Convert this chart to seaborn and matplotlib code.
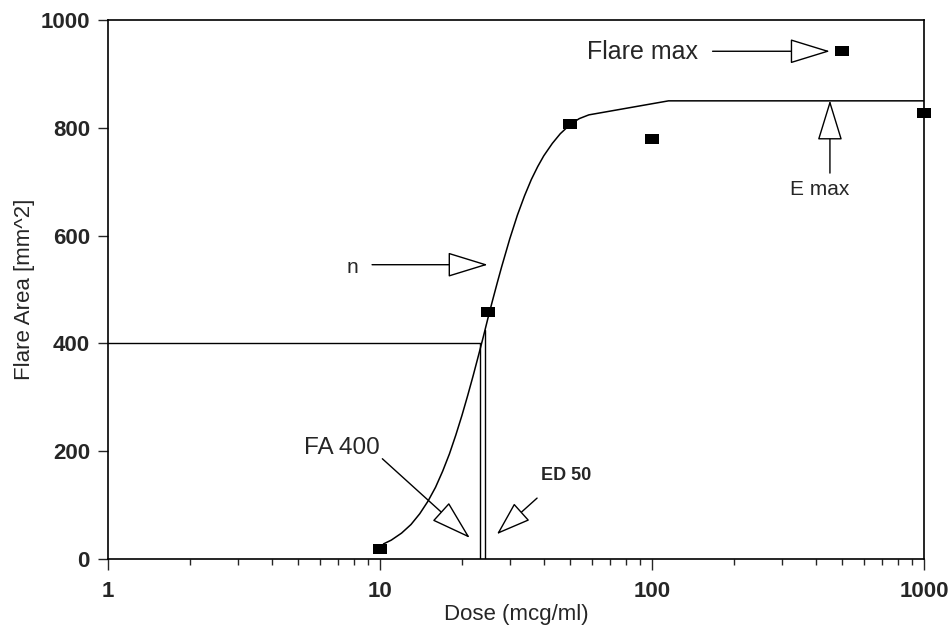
import matplotlib
matplotlib.use("Agg")
import matplotlib.pyplot as plt
import numpy as np
import pandas as pd
import seaborn as sns
from matplotlib.path import Path
from matplotlib.ticker import LogLocator, NullFormatter, FixedLocator

# ---- data ----
dose = [10, 25, 50, 100, 500, 1000]
flare_area = [19, 459, 807, 779, 942, 827]

# fitted curve
curve_dose = [10.3, 11, 12, 13, 14, 15, 16, 17, 18, 19, 20, 21, 22, 23, 24, 25, 26, 27,
              28, 30, 32, 34, 36, 38, 40, 43, 46, 50, 54, 58.6, 115, 1000]
curve_area = [28, 35, 48, 64, 84, 107, 133, 163, 195, 230, 266, 303, 340, 377, 413,
              449, 482, 513, 542, 594, 638, 674, 704, 728, 748, 771, 789, 806, 817,
              824, 850, 850]

fa400_level = 400
fa400_dose = 23.3
ed50_dose = 24.4
ed50_level = 425

x_ticks = [1, 10, 100, 1000]
x_tick_labels = ["1", "10", "100", "1000"]
y_ticks = [0, 200, 400, 600, 800, 1000]

sns.set_style("ticks")
plt.rcParams["font.family"] = ["Liberation Sans", "DejaVu Sans"]

fig = plt.figure(figsize=(9.48, 6.32), dpi=100)
ax = fig.add_axes([108 / 948, (632 - 559) / 632, (924 - 108) / 948, (559 - 20) / 632])

pts = pd.DataFrame({"dose": dose, "area": flare_area})
crv = pd.DataFrame({"dose": curve_dose, "area": curve_area})

# fitted curve
sns.lineplot(data=crv, x="dose", y="area", ax=ax, color="black", lw=1.1,
             sort=False, estimator=None)

# reference lines FA 400 / ED 50
ref_h = pd.DataFrame({"dose": [1, fa400_dose], "area": [fa400_level, fa400_level]})
ref_v1 = pd.DataFrame({"dose": [fa400_dose, fa400_dose], "area": [0, fa400_level]})
ref_v2 = pd.DataFrame({"dose": [ed50_dose, ed50_dose], "area": [0, ed50_level]})
for d in (ref_h, ref_v1, ref_v2):
    sns.lineplot(data=d, x="dose", y="area", ax=ax, color="black", lw=1.0,
                 sort=False, estimator=None)

# data points (rectangular markers)
rect = Path([(-1, -0.72), (1, -0.72), (1, 0.72), (-1, 0.72), (-1, -0.72)],
            [Path.MOVETO, Path.LINETO, Path.LINETO, Path.LINETO, Path.CLOSEPOLY])
sns.scatterplot(data=pts, x="dose", y="area", ax=ax, marker=rect, s=92,
                color="black", edgecolor="black", linewidth=0, zorder=5, clip_on=False)

ax.set_xscale("log")
ax.set_xlim(1, 1000)
ax.set_ylim(0, 1000)
ax.xaxis.set_major_locator(FixedLocator(x_ticks))
ax.set_xticklabels(x_tick_labels)
ax.xaxis.set_minor_locator(LogLocator(base=10, subs=np.arange(2, 10)))
ax.xaxis.set_minor_formatter(NullFormatter())
ax.set_yticks(y_ticks)

for s in ax.spines.values():
    s.set_visible(True)
    s.set_linewidth(1.2)
    s.set_color("black")

ax.tick_params(axis="y", which="major", direction="out", length=7, width=1,
               labelsize=16, pad=6, right=False)
ax.tick_params(axis="x", which="major", direction="out", length=8, width=1,
               labelsize=16, pad=8, top=False)
ax.tick_params(axis="x", which="minor", direction="out", length=4, width=1, top=False)
for lab in ax.get_yticklabels() + ax.get_xticklabels():
    lab.set_fontweight("bold")

ax.set_xlabel("Dose (mcg/ml)", fontsize=16, labelpad=1)
ax.set_ylabel("Flare Area [mm^2]", fontsize=16, labelpad=4)

arrow = dict(arrowstyle="-|>,head_length=2.6,head_width=0.8", fc="white", ec="black",
             lw=1.0, shrinkA=0, shrinkB=0, mutation_scale=10)
arrow_s = dict(arrowstyle="-|>,head_length=2.2,head_width=0.75", fc="white", ec="black",
               lw=1.0, shrinkA=0, shrinkB=0, mutation_scale=10)

# Flare max
ax.text(57.5, 940, "Flare max", fontsize=18, ha="left", va="center")
ax.annotate("", xy=(451, 942), xytext=(167, 942), arrowprops=arrow)
# E max
ax.text(415, 686, "E max", fontsize=15, ha="center", va="center")
ax.annotate("", xy=(451, 851), xytext=(451, 716), arrowprops=arrow)
# n
ax.text(7.89, 540, "n", fontsize=15, ha="center", va="center")
ax.annotate("", xy=(24.9, 546), xytext=(9.35, 546), arrowprops=arrow)
# FA 400
ax.text(7.25, 206, "FA 400", fontsize=17.5, ha="center", va="center")
ax.annotate("", xy=(21.4, 39), xytext=(10.2, 186), arrowprops=arrow)
# ED 50
ax.text(48.3, 154, "ED 50", fontsize=13, fontweight="bold", ha="center", va="center")
ax.annotate("", xy=(26.9, 46), xytext=(37.8, 113), arrowprops=arrow_s)

fig.savefig("out.png", dpi=100, facecolor="white")
